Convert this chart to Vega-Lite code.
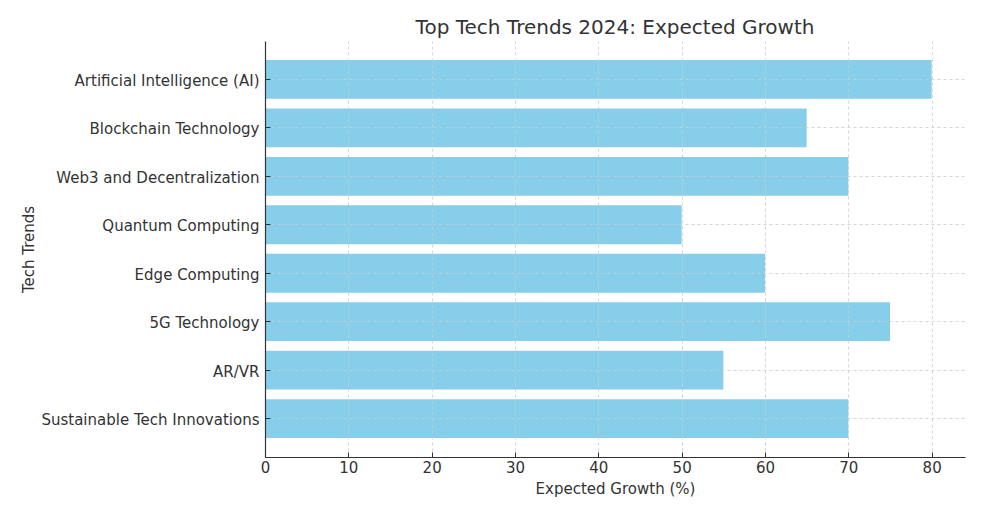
{
  "$schema": "https://vega.github.io/schema/vega-lite/v6.json",
  "width": 700,
  "height": 416,
  "autosize": {"type": "none"},
  "padding": {"left": 265, "top": 41, "right": 28, "bottom": 59},
  "background": "white",
  "config": {
    "view": {"stroke": null},
    "font": "DejaVu Sans"
  },
  "title": {
    "text": "Top Tech Trends 2024: Expected Growth",
    "fontSize": 20,
    "font": "DejaVu Sans",
    "fontWeight": "normal",
    "color": "#333333",
    "anchor": "middle",
    "offset": 3
  },
  "data": {
    "values": [
      {"trend": "Artificial Intelligence (AI)", "growth": 80},
      {"trend": "Blockchain Technology", "growth": 65},
      {"trend": "Web3 and Decentralization", "growth": 70},
      {"trend": "Quantum Computing", "growth": 50},
      {"trend": "Edge Computing", "growth": 60},
      {"trend": "5G Technology", "growth": 75},
      {"trend": "AR/VR", "growth": 55},
      {"trend": "Sustainable Tech Innovations", "growth": 70}
    ]
  },
  "mark": {"type": "bar", "color": "#87CEEB"},
  "encoding": {
    "y": {
      "field": "trend",
      "type": "nominal",
      "sort": null,
      "scale": {"paddingInner": 0.2, "paddingOuter": 0.39},
      "axis": {
        "title": "Tech Trends",
        "titleFontSize": 15,
        "titleFontWeight": "normal",
        "titleColor": "#333333",
        "titlePadding": 29,
        "labelFontSize": 15,
        "labelColor": "#333333",
        "labelPadding": 11,
        "labelLimit": 400,
        "labelBaseline": "middle",
        "labelOffset": 1.5,
        "tickSize": -5,
        "tickColor": "#333333",
        "domainColor": "#333333",
        "domainWidth": 1.2,
        "grid": true,
        "gridColor": "#cccccc",
        "gridDash": [3, 3],
        "gridWidth": 0.8,
        "zindex": 1
      }
    },
    "x": {
      "field": "growth",
      "type": "quantitative",
      "scale": {"domain": [0, 84], "nice": false},
      "axis": {
        "title": "Expected Growth (%)",
        "titleFontSize": 15,
        "titleFontWeight": "normal",
        "titleColor": "#333333",
        "titlePadding": 6,
        "labelFontSize": 15,
        "labelColor": "#333333",
        "labelPadding": 8,
        "labelFlush": false,
        "values": [0, 10, 20, 30, 40, 50, 60, 70, 80],
        "tickSize": -5,
        "tickColor": "#333333",
        "domainColor": "#333333",
        "domainWidth": 1.2,
        "grid": true,
        "gridColor": "#cccccc",
        "gridDash": [3, 3],
        "gridWidth": 0.8,
        "zindex": 1
      }
    }
  }
}
